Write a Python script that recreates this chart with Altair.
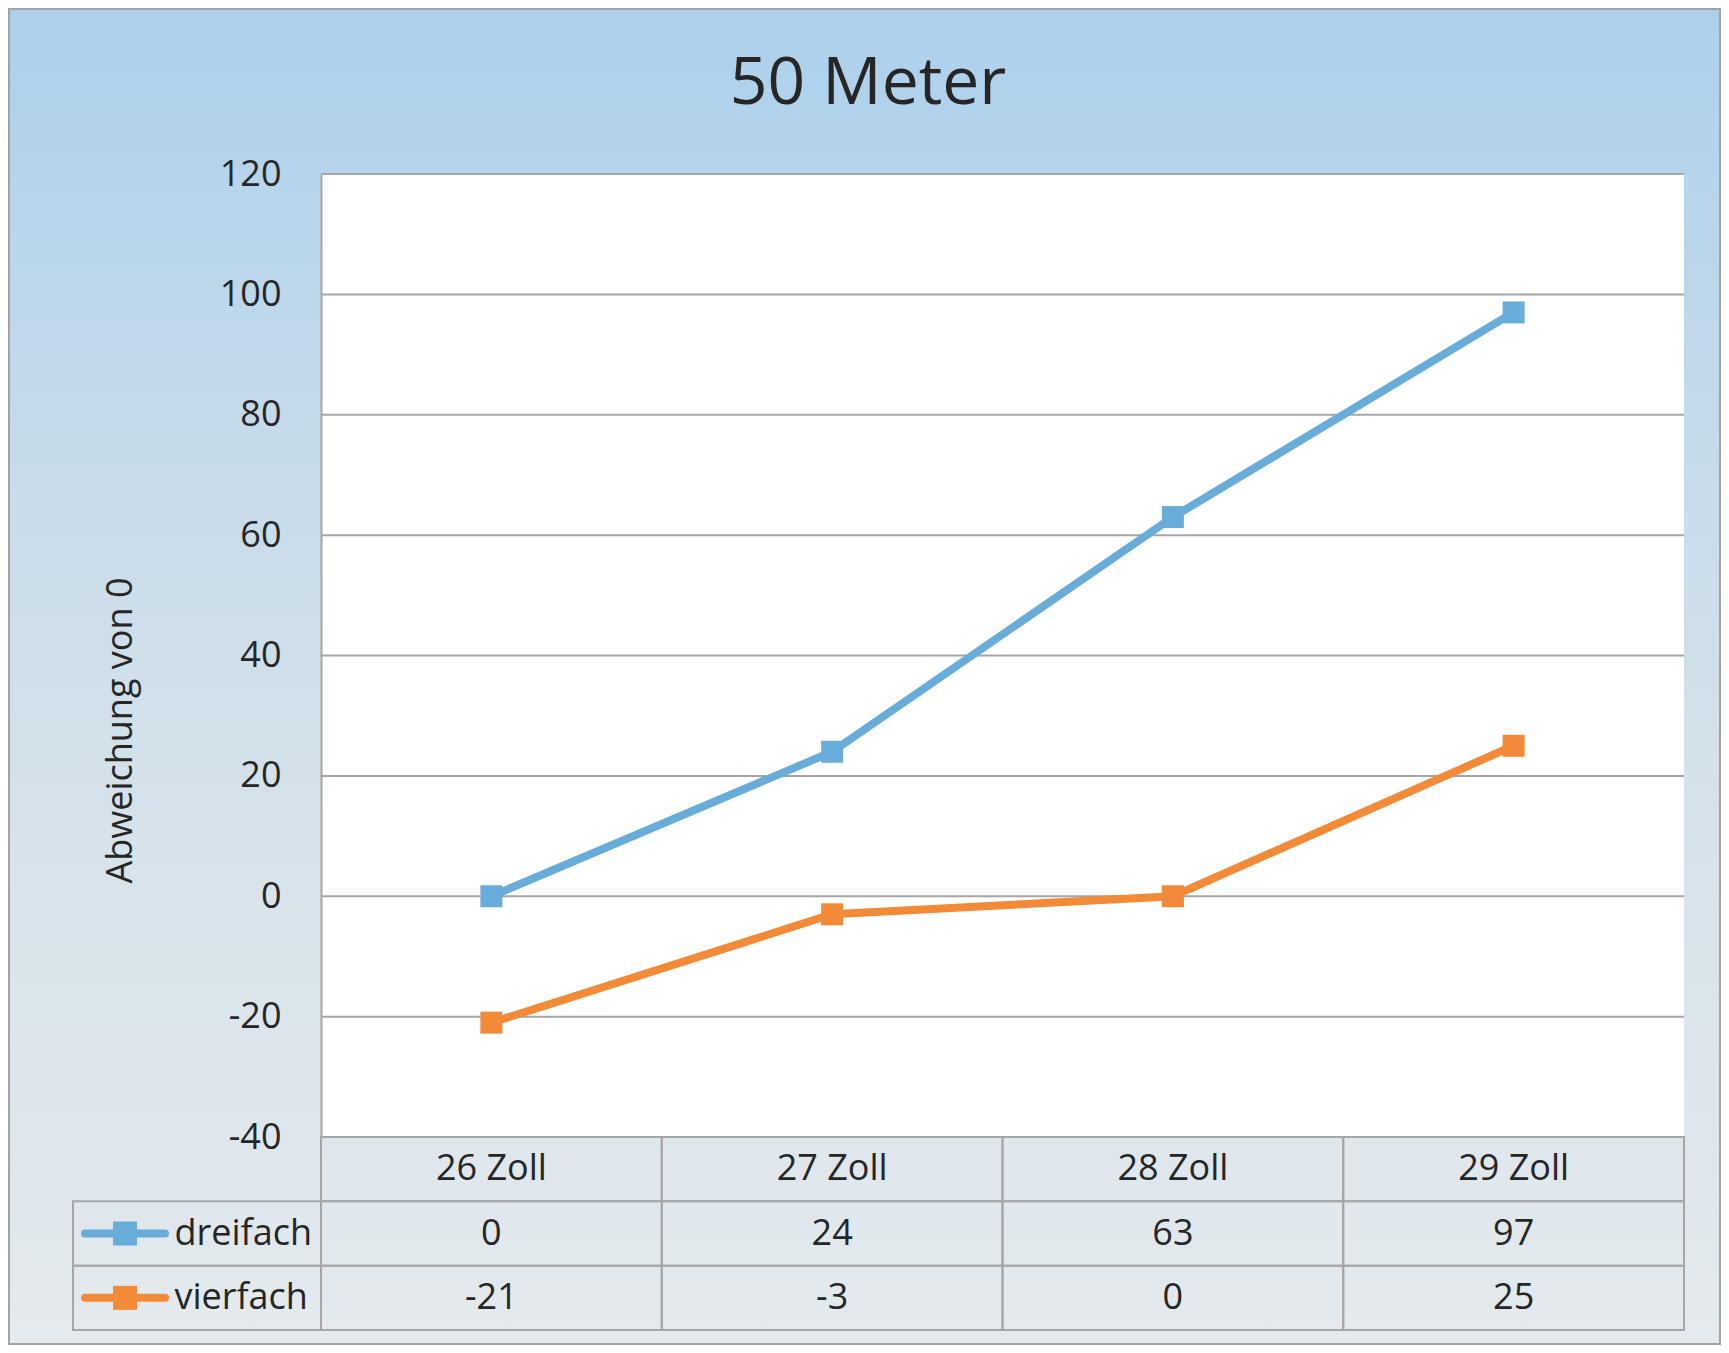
import altair as alt
import pandas as pd

# ---- data ----
categories = ["26 Zoll", "27 Zoll", "28 Zoll", "29 Zoll"]
series_names = ["dreifach", "vierfach"]
dreifach = [0, 24, 63, 97]
vierfach = [-21, -3, 0, 25]
y_ticks = [-40, -20, 0, 20, 40, 60, 80, 100, 120]
chart_title = "50 Meter"
y_title = "Abweichung von 0"
header_row = "Kopf"
row_order = [header_row] + series_names

# ---- styling ----
FONT = "Open Sans"
TXT = "#262626"
GRID = "#a6a6a6"
BLUE = "#68acd9"
ORANGE = "#f28a38"
colors = [BLUE, ORANGE]

W, H = 1363, 963
TH = 193

long_rows = []
for s, vals in zip(series_names, [dreifach, vierfach]):
    for c, v in zip(categories, vals):
        long_rows.append({"cat": c, "series": s, "value": v})
long_df = pd.DataFrame(long_rows)
grid_df = pd.DataFrame({"value": y_ticks})

table_rows = []
for c in categories:
    table_rows.append({"row": header_row, "cat": c, "label": c})
for s, vals in zip(series_names, [dreifach, vierfach]):
    for c, v in zip(categories, vals):
        table_rows.append({"row": s, "cat": c, "label": str(v)})
table_df = pd.DataFrame(table_rows)
legend_df = pd.DataFrame({"row": series_names, "series": series_names})
one = pd.DataFrame({"t": [chart_title]})

color_scale = alt.Scale(domain=series_names, range=colors)

# ---- top: line chart ----
bg = alt.Chart(one).mark_rect(
    fill=alt.Gradient(
        gradient="linear",
        stops=[
            alt.GradientStop(color="#acd0ec", offset=0),
            alt.GradientStop(color="#c4daea", offset=0.3),
            alt.GradientStop(color="#d6e2ea", offset=0.6),
            alt.GradientStop(color="#e4eaee", offset=1),
        ],
        x1=0, x2=0, y1=0, y2=1,
    ),
    stroke="#a3a3a3",
    strokeWidth=2,
).encode(x=alt.value(-312), x2=alt.value(1399), y=alt.value(-165), y2=alt.value(1170))

plot_bg = alt.Chart(one).mark_rect(fill="white").encode(
    x=alt.value(0), x2=alt.value(W), y=alt.value(0), y2=alt.value(H)
)

title_text = alt.Chart(one).mark_text(
    fontSize=66, font=FONT, color=TXT, align="center", baseline="alphabetic"
).encode(x=alt.value(547), y=alt.value(-70), text="t:N")

x_enc = alt.X("cat:N", sort=categories,
              scale=alt.Scale(type="point", domain=categories, padding=0.5), axis=None)
y_axis = alt.Axis(
    values=y_ticks, grid=False, zindex=1,
    domain=True, domainColor=GRID, domainWidth=2,
    ticks=False, tickSize=0, labelPadding=40,
    labelExpr="datum.value + ''",
    labelFontSize=36, labelFont=FONT, labelColor=TXT,
    title=y_title, titleFontSize=36, titleFont=FONT,
    titleColor=TXT, titleFontWeight="normal", titleAngle=270,
    titleX=-190, titleY=556, titleAlign="center", titleBaseline="alphabetic",
)
y_enc = alt.Y("value:Q", scale=alt.Scale(domain=[-40, 120], nice=False, zero=False), axis=y_axis)
color_enc = alt.Color("series:N", scale=color_scale, legend=None)

grid = alt.Chart(grid_df).mark_rule(color=GRID, strokeWidth=2).encode(
    y=y_enc, x=alt.value(0), x2=alt.value(W)
)
lines = alt.Chart(long_df).mark_line(strokeWidth=8).encode(
    x=x_enc, y=y_enc, color=color_enc, detail="series:N"
)
points = alt.Chart(long_df).mark_point(shape="square", filled=True, size=484, opacity=1).encode(
    x=x_enc, y=y_enc, color=color_enc
)

top = alt.layer(bg, plot_bg, title_text, grid, lines, points).properties(width=W, height=H)

# ---- bottom: data table ----
tx = alt.X("cat:N", sort=categories,
           scale=alt.Scale(domain=categories, paddingInner=0, paddingOuter=0), axis=None)
ty = alt.Y(
    "row:N", sort=row_order,
    scale=alt.Scale(domain=row_order, paddingInner=0, paddingOuter=0),
    axis=alt.Axis(
        labelAlign="left", labelPadding=147, ticks=False, tickSize=0, domain=False,
        labelFontSize=36, labelFont=FONT, labelColor=TXT, title=None,
        labelExpr=f"datum.value == '{header_row}' ? '' : datum.value",
    ),
)

cells = alt.Chart(table_df).mark_rect(fillOpacity=0, stroke=GRID, strokeWidth=2).encode(x=tx, y=ty)
cell_text = alt.Chart(table_df).mark_text(fontSize=36, font=FONT, color=TXT, baseline="middle").encode(
    x=tx, y=ty, text="label:N"
)
leg_cells = alt.Chart(legend_df).mark_rect(fillOpacity=0, stroke=GRID, strokeWidth=2).encode(
    x=alt.value(-248), x2=alt.value(0), y=ty
)
leg_line = alt.Chart(legend_df).mark_rule(strokeWidth=8, strokeCap="round").encode(
    x=alt.value(-236), x2=alt.value(-156), y=ty,
    color=alt.Color("series:N", scale=color_scale, legend=None),
)
leg_sq = alt.Chart(legend_df).mark_point(shape="square", filled=True, size=576, opacity=1).encode(
    x=alt.value(-196), y=ty,
    color=alt.Color("series:N", scale=color_scale, legend=None),
)

table = alt.layer(cells, cell_text, leg_cells, leg_line, leg_sq).properties(width=W, height=TH)

chart = alt.vconcat(top, table, spacing=0, bounds="flush").resolve_scale(
    x="independent", y="independent", color="independent"
).properties(padding=0).configure_view(stroke=None)

chart.save("out.html", embed_options={"renderer": "svg", "actions": False})
